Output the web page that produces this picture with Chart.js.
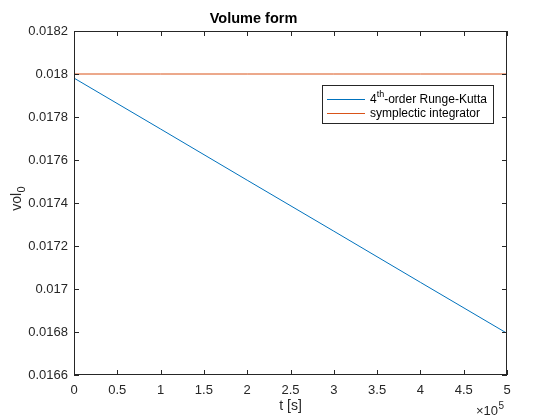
<!DOCTYPE html>
<html>
<head>
<meta charset="utf-8">
<script src="https://cdn.jsdelivr.net/npm/chart.js@4"></script>
<style>
  html, body { margin: 0; padding: 0; background: #fff; }
  #wrap { width: 560px; height: 420px; }
</style>
</head>
<body>
<div id="wrap"><canvas id="c" width="560" height="420"></canvas></div>
<script>
// ---- data ----
const timeSeconds = [0, 100000, 200000, 300000, 400000, 500000];
const rk4Volume = [0.017981, 0.017744, 0.017506, 0.017269, 0.017031, 0.016794];
const symplecticVolume = [0.018, 0.018, 0.018, 0.018, 0.018, 0.018];
const seriesNames = ['4th-order Runge-Kutta', 'symplectic integrator'];
const xTickValues = [0, 50000, 100000, 150000, 200000, 250000, 300000, 350000, 400000, 450000, 500000];
const yTickValues = [0.0166, 0.0168, 0.017, 0.0172, 0.0174, 0.0176, 0.0178, 0.018, 0.0182];

const FONT = '"Liberation Sans", Arial, Helvetica, sans-serif';
const INK = '#262626';
const BLUE = '#0072BD';
const ORANGE = '#D95319';

function toPoints(xs, ys) { return xs.map((x, i) => ({ x: x, y: ys[i] })); }

const boxPlugin = {
  id: 'matlabBox',
  afterDraw(chart) {
    const ctx = chart.ctx;
    const a = chart.chartArea;
    const xs = chart.scales.x, ys = chart.scales.y;
    ctx.save();
    ctx.strokeStyle = INK;
    ctx.lineWidth = 1;
    // box
    ctx.strokeRect(Math.round(a.left) + 0.5, Math.round(a.top) + 0.5,
                   Math.round(a.right - a.left) - 1, Math.round(a.bottom - a.top) - 1);
    const L = 5;
    ctx.beginPath();
    xTickValues.forEach(v => {
      const px = Math.round(xs.getPixelForValue(v)) + 0.5;
      ctx.moveTo(px, a.bottom); ctx.lineTo(px, a.bottom - L);
      ctx.moveTo(px, a.top); ctx.lineTo(px, a.top + L);
    });
    yTickValues.forEach(v => {
      const py = Math.round(ys.getPixelForValue(v)) + 0.5;
      ctx.moveTo(a.left, py); ctx.lineTo(a.left + L, py);
      ctx.moveTo(a.right, py); ctx.lineTo(a.right - L, py);
    });
    ctx.stroke();

    // exponent label
    ctx.fillStyle = INK;
    ctx.textBaseline = 'alphabetic';
    ctx.textAlign = 'left';
    ctx.font = '13px ' + FONT;
    const ex = a.right - 31, ey = a.bottom + 40;
    ctx.fillText('\u00d710', ex, ey);
    const w = ctx.measureText('\u00d710').width;
    ctx.font = '10px ' + FONT;
    ctx.fillText('5', ex + w + 0.5, ey - 6);

    // y-axis label vol_0
    ctx.save();
    ctx.translate(21, (a.top + a.bottom) / 2);
    ctx.rotate(-Math.PI / 2);
    ctx.font = '14px ' + FONT;
    ctx.textAlign = 'left';
    const t1 = 'vol';
    const w1 = ctx.measureText(t1).width;
    ctx.font = '14px ' + FONT;
    const w0 = ctx.measureText('0').width * 0.75;
    const start = -(w1 + w0) / 2 + 4;
    ctx.font = '14px ' + FONT;
    ctx.fillText(t1, start, 0);
    ctx.font = '11px ' + FONT;
    ctx.fillText('0', start + w1 + 0.5, 4);
    ctx.restore();

    // legend
    const lx = 322.5, ly = 85.5, lw = 171, lh = 38;
    ctx.fillStyle = '#ffffff';
    ctx.fillRect(lx, ly, lw, lh);
    ctx.strokeStyle = INK;
    ctx.strokeRect(lx, ly, lw, lh);
    const rows = [
      { color: BLUE, y: 99.5 },
      { color: ORANGE, y: 113.5 }
    ];
    rows.forEach((r, i) => {
      ctx.strokeStyle = r.color;
      ctx.beginPath();
      ctx.moveTo(327, r.y); ctx.lineTo(365, r.y);
      ctx.stroke();
    });
    ctx.fillStyle = '#000';
    ctx.textBaseline = 'middle';
    ctx.font = '12px ' + FONT;
    // row 1: 4^th-order Runge-Kutta
    let tx = 370;
    ctx.fillText('4', tx, 100);
    tx += ctx.measureText('4').width;
    ctx.font = '9px ' + FONT;
    ctx.fillText('th', tx, 95);
    tx += ctx.measureText('th').width;
    ctx.font = '12px ' + FONT;
    ctx.fillText(seriesNames[0].slice(3), tx, 100);
    ctx.fillText(seriesNames[1], 370, 114);
    ctx.restore();
  }
};

new Chart(document.getElementById('c'), {
  type: 'line',
  data: {
    datasets: [
      { label: seriesNames[0], data: toPoints(timeSeconds, rk4Volume), borderColor: BLUE,
        borderWidth: 1, pointRadius: 0, fill: false, tension: 0 },
      { label: seriesNames[1], data: toPoints(timeSeconds, symplecticVolume), borderColor: ORANGE,
        borderWidth: 1, pointRadius: 0, fill: false, tension: 0 }
    ]
  },
  options: {
    responsive: false,
    animation: false,
    devicePixelRatio: 1,
    layout: { padding: { left: 0, right: 53, top: 0, bottom: 0 } },
    plugins: {
      legend: { display: false },
      tooltip: { enabled: false },
      title: {
        display: true, text: 'Volume form', color: '#000',
        font: { family: FONT, size: 14.5, weight: 'bold', lineHeight: 1.2 },
        padding: { top: 10, bottom: 3.6 }
      }
    },
    scales: {
      x: {
        type: 'linear', min: 0, max: 500000,
        grid: { display: false, drawTicks: false },
        border: { display: false },
        afterBuildTicks(s) { s.ticks = xTickValues.map(v => ({ value: v })); },
        afterFit(s) { s.height = 45; },
        ticks: {
          color: INK, font: { family: FONT, size: 13 }, padding: 8, maxRotation: 0,
          autoSkip: false,
          callback: v => String(parseFloat((v / 100000).toFixed(2)))
        },
        title: {
          display: true, text: 't [s]', color: INK,
          font: { family: FONT, size: 14, lineHeight: 1.2 },
          padding: { top: 0, bottom: 5 }
        }
      },
      y: {
        type: 'linear', min: 0.0166, max: 0.0182,
        grid: { display: false, drawTicks: false },
        border: { display: false },
        afterBuildTicks(s) { s.ticks = yTickValues.map(v => ({ value: v })); },
        afterFit(s) { s.width = 74; },
        ticks: {
          color: INK, font: { family: FONT, size: 13 }, padding: 6,
          autoSkip: false,
          callback: v => String(parseFloat(v.toFixed(4)))
        }
      }
    }
  },
  plugins: [boxPlugin]
});
</script>
</body>
</html>
